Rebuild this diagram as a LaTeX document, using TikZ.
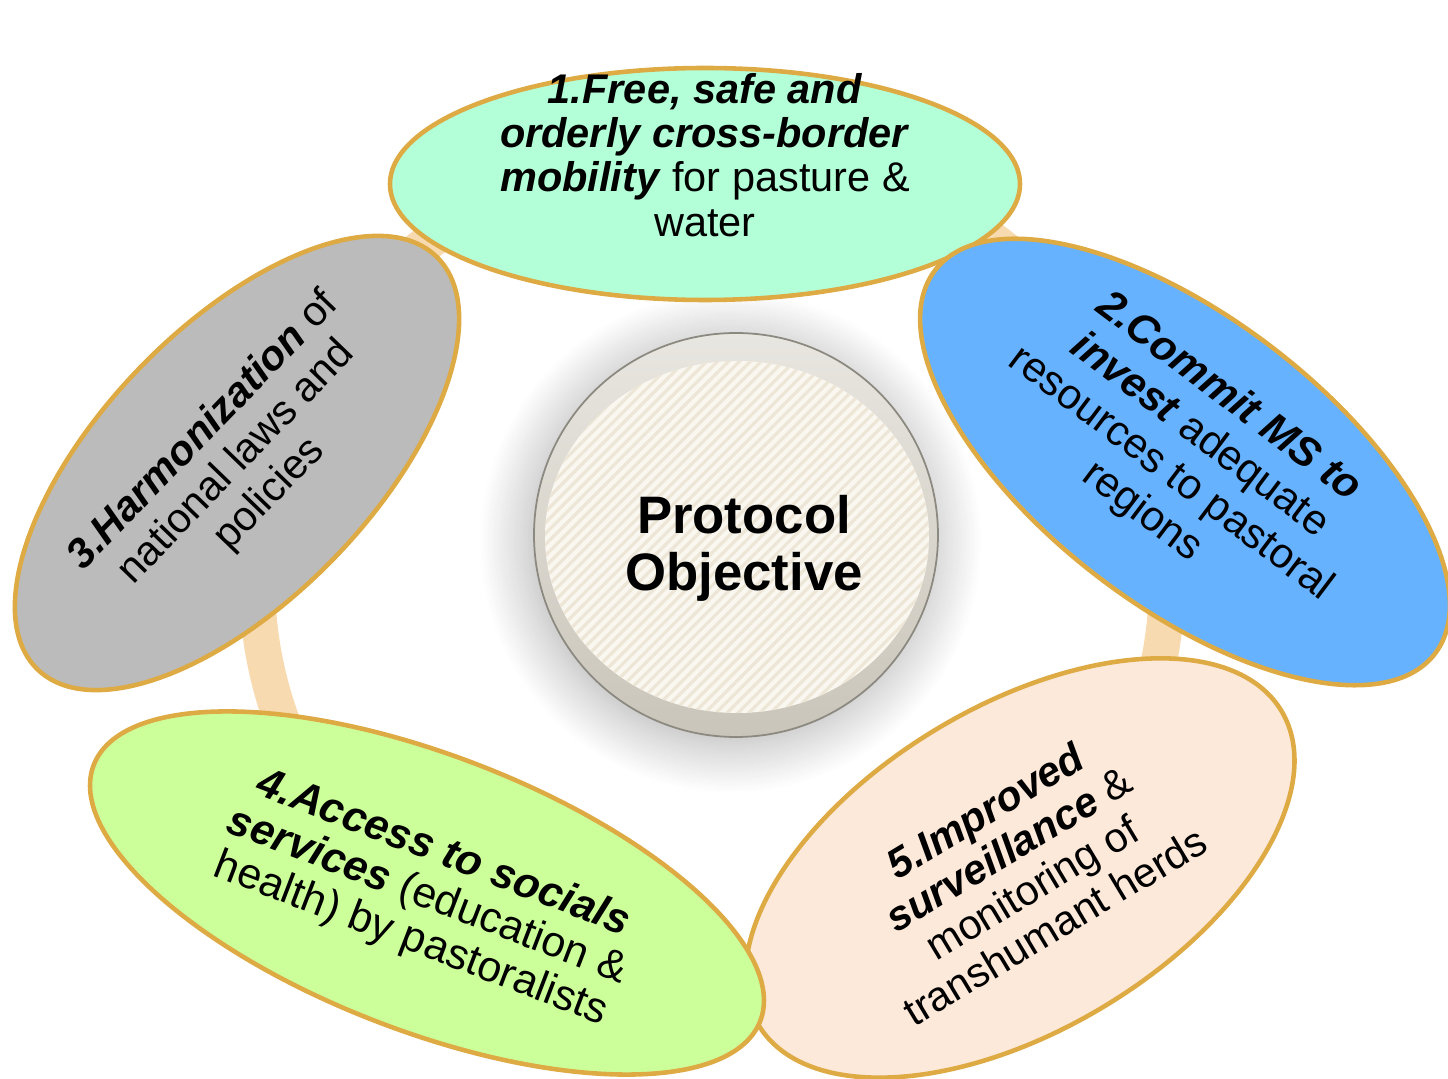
\documentclass[tikz,border=0pt]{standalone}
\usepackage{fontspec}
\setmainfont{Liberation Sans}
\usetikzlibrary{shapes.geometric,shadows.blur,patterns.meta}
\definecolor{ringc}{RGB}{247,218,176}
\definecolor{edge}{RGB}{221,170,68}
\definecolor{mint}{RGB}{179,255,216}
\definecolor{sky}{RGB}{102,178,255}
\definecolor{slate}{RGB}{187,187,187}
\definecolor{lime}{RGB}{204,255,153}
\definecolor{blush}{RGB}{252,233,218}
\definecolor{hubtop}{RGB}{232,230,224}
\definecolor{hubbot}{RGB}{202,197,186}
\definecolor{hubline}{RGB}{140,137,128}
\definecolor{disccol}{RGB}{250,247,240}
\definecolor{stripe}{RGB}{237,230,214}
\newcommand{\keyw}[1]{\textbf{\textit{#1}}}
\tikzstyle{orbit} = [draw=ringc, line width=3.6mm]
\tikzstyle{goal} = [draw=edge, line width=1.3pt, ellipse, inner sep=0pt]
\tikzstyle{goaltext} = [align=center, inner sep=0pt, font=\fontsize{11.8}{12.6}\selectfont]
\tikzstyle{hub} = [circle, draw=hubline, line width=0.5pt, top color=hubtop, bottom color=hubbot, minimum size=4.04cm, inner sep=0pt, align=center, font=\fontsize{15}{16.2}\selectfont\bfseries, blur shadow={shadow xshift=-1.5pt, shadow yshift=-2pt, shadow blur radius=14pt, shadow blur steps=24, shadow opacity=32}]
\tikzstyle{disc} = [preaction={fill=disccol}, pattern={Lines[angle=45, distance=2.2pt, line width=0.9pt]}, pattern color=stripe]

\begin{document}
\begin{tikzpicture}
    \useasboundingbox (0,0) rectangle (14.48,10.79);
    \coordinate (pivot) at (7.12,4.99);
    \draw[orbit] (pivot) ellipse (4.55 and 4.32);
    \node[hub, path picture={\fill[disc] ([shift={(0.01,-0.02)}]path picture bounding box.center) ellipse (1.92 and 1.76);}] (obj) at (7.36,5.44) {\hspace*{0.16cm}\rule{0pt}{18.5pt}Protocol\\\hspace*{0.16cm}Objective};
    \node[goal, fill=mint, minimum width=6.30cm, minimum height=2.32cm] (mobility) at (7.05,8.95) {};
    \node[goal, fill=sky, minimum width=6.30cm, minimum height=2.88cm, rotate=-37.5] (invest) at (11.85,6.17) {};
    \node[goal, fill=blush, minimum width=6.10cm, minimum height=3.24cm, rotate=31] (surveil) at (10.20,2.11) {};
    \node[goal, fill=lime, minimum width=7.14cm, minimum height=2.76cm, rotate=-21] (access) at (4.27,1.86) {};
    \node[goal, fill=slate, minimum width=5.74cm, minimum height=2.72cm, rotate=46] (harmonize) at (2.37,6.16) {};
    \node[goaltext] (mobilitytext) at ([yshift=0.29cm]mobility.center) {\keyw{1.Free, safe and}\\ \keyw{orderly cross-border}\\ \keyw{mobility} for pasture \&\\ water};
    \node[goaltext, rotate=-37, font=\fontsize{12}{13.6}\selectfont] (investtext) at ([yshift=0.07cm]invest.center) {\keyw{2.Commit MS to}\\ \keyw{invest} adequate\\ resources to pastoral\\ regions};
    \node[goaltext, rotate=31, font=\fontsize{11.8}{12.8}\selectfont] (surveiltext) at (surveil.center) {\keyw{5.Improved}\\ \keyw{surveillance} \&\\ monitoring of\\ transhumant herds};
    \node[goaltext, rotate=-21, font=\fontsize{12.2}{13}\selectfont] (accesstext) at ([yshift=-0.04cm]access.center) {\keyw{4.Access to socials}\\ \keyw{services} (education \&\\ health) by pastoralists};
    \node[goaltext, rotate=46, font=\fontsize{11.8}{13}\selectfont] (harmonizetext) at (harmonize.center) {\keyw{3.Harmonization} of\\ national laws and\\ policies};
\end{tikzpicture}
\end{document}
